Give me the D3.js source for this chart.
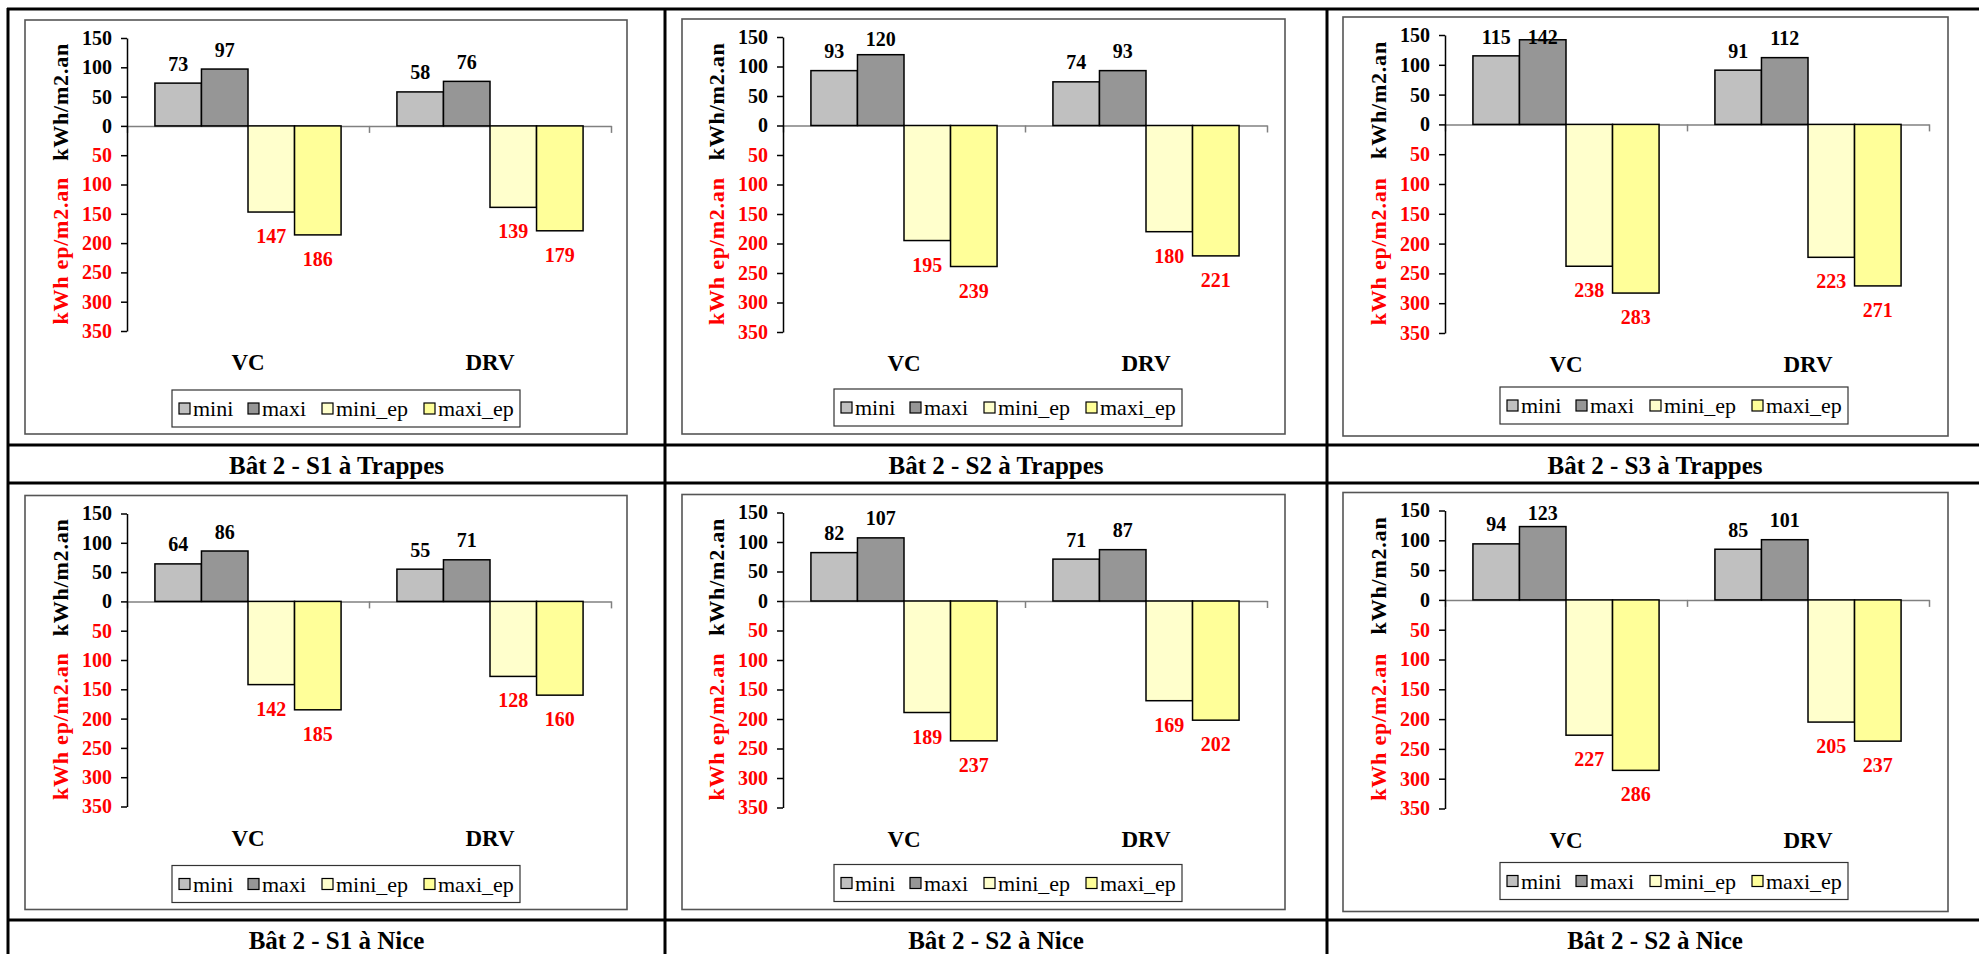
<!DOCTYPE html>
<html>
<head>
<meta charset="utf-8">
<script src="https://cdn.jsdelivr.net/npm/d3@7"></script>
<style>
  body { margin: 0; background: #fff; }
  svg { display: block; }
</style>
</head>
<body>
<svg id="chart" width="1979" height="954"></svg>
<script>
// Categories, series and tick values
const categories = ["VC", "DRV"];
const seriesNames = ["mini", "maxi", "mini_ep", "maxi_ep"];
const seriesColors = ["#C0C0C0", "#969696", "#FFFFCC", "#FFFF99"];
const yTickValues = [150, 100, 50, 0, -50, -100, -150, -200, -250, -300, -350];

const panelTitles = [
  "Bât 2 - S1 à Trappes", "Bât 2 - S2 à Trappes", "Bât 2 - S3 à Trappes",
  "Bât 2 - S1 à Nice", "Bât 2 - S2 à Nice", "Bât 2 - S2 à Nice"
];

// One pair [VC, DRV] per panel, in panel order
const mini   = [[73, 58], [93, 74], [115, 91], [64, 55], [82, 71], [94, 85]];
const maxi   = [[97, 76], [120, 93], [142, 112], [86, 71], [107, 87], [123, 101]];
const miniEp = [[147, 139], [195, 180], [238, 223], [142, 128], [189, 169], [227, 205]];
const maxiEp = [[186, 179], [239, 221], [283, 271], [185, 160], [237, 202], [286, 237]];

// Primary-energy series are drawn below the zero line
const seriesData = [mini, maxi, miniEp.map(p => p.map(v => -v)), maxiEp.map(p => p.map(v => -v))];

// Layout of the three table columns
const columns = [
  { boxX: 25,   boxY: 20, boxW: 602, boxH: 414, axisX: 127,  yTop: 38, yBot: 331, legendCx: 346,  center: 336.5 },
  { boxX: 682,  boxY: 19, boxW: 603, boxH: 415, axisX: 783,  yTop: 37, yBot: 332, legendCx: 1008, center: 996 },
  { boxX: 1343, boxY: 17, boxW: 605, boxH: 419, axisX: 1445, yTop: 35, yBot: 333, legendCx: 1674, center: 1655 }
];
const rowStep = 475.5;
const plotW = 484;
const RED = "#FF0000";
const SERIF = "'Liberation Serif', 'Times New Roman', 'DejaVu Serif', serif";

const svg = d3.select("#chart").style("font-family", SERIF);

function label(sel) {
  return sel.append("text").style("font-family", SERIF);
}

panelTitles.forEach((title, i) => {
  const col = i % 3, row = Math.floor(i / 3);
  const L = columns[col];
  const dy = row * rowStep;
  const g = svg.append("g");

  // chart area frame
  g.append("rect")
    .attr("x", L.boxX).attr("y", L.boxY + dy)
    .attr("width", L.boxW).attr("height", L.boxH)
    .attr("fill", "#fff").attr("stroke", "#555").attr("stroke-width", 1.6);

  const y = d3.scaleLinear().domain([150, -350]).range([L.yTop + dy, L.yBot + dy]);
  const x0 = d3.scaleBand().domain(categories).range([L.axisX, L.axisX + plotW]).padding(0);
  const x1 = d3.scaleBand().domain(seriesNames).range([0, x0.bandwidth()]).paddingInner(0).paddingOuter(0.6);

  // category axis on the zero line
  const xLin = d3.scaleLinear().domain([0, categories.length]).range([L.axisX, L.axisX + plotW]);
  const xAxis = g.append("g")
    .attr("transform", `translate(0,${y(0)})`)
    .call(d3.axisBottom(xLin).tickValues(d3.range(0, categories.length + 1)).tickSize(7).tickSizeOuter(0).tickFormat(""));
  xAxis.select(".domain").attr("stroke", "#808080").attr("stroke-width", 1.5);
  xAxis.selectAll(".tick line").attr("stroke", "#808080").attr("stroke-width", 1.5);

  // value axis
  const yAxis = g.append("g")
    .attr("transform", `translate(${L.axisX},0)`)
    .call(d3.axisLeft(y).tickValues(yTickValues).tickSize(6).tickSizeOuter(0).tickPadding(9)
      .tickFormat(d => Math.abs(d)));
  yAxis.attr("font-family", null);
  yAxis.select(".domain").attr("stroke", "#000").attr("stroke-width", 1.5);
  yAxis.selectAll(".tick line").attr("stroke", "#000").attr("stroke-width", 1.5);
  yAxis.selectAll(".tick text")
    .style("font-family", SERIF)
    .attr("font-size", 20).attr("font-weight", "bold")
    .attr("fill", d => d < 0 ? RED : "#000");

  // axis titles
  label(g)
    .attr("transform", `translate(${L.axisX - 67},${y(41)}) rotate(-90)`)
    .attr("text-anchor", "middle").attr("dy", "0.35em")
    .attr("font-size", 22).attr("font-weight", "bold").attr("letter-spacing", 0.8).attr("fill", "#000")
    .text("kWh/m2.an");
  label(g)
    .attr("transform", `translate(${L.axisX - 67},${y(-213)}) rotate(-90)`)
    .attr("text-anchor", "middle").attr("dy", "0.35em")
    .attr("font-size", 22).attr("font-weight", "bold").attr("letter-spacing", 0.8).attr("fill", RED)
    .text("kWh ep/m2.an");

  // bars and value labels
  categories.forEach((cat, c) => {
    seriesNames.forEach((s, k) => {
      const v = seriesData[k][i][c];
      const bx = x0(cat) + x1(s);
      g.append("rect")
        .attr("x", bx).attr("y", y(Math.max(v, 0)))
        .attr("width", x1.bandwidth())
        .attr("height", Math.abs(y(v) - y(0)))
        .attr("fill", seriesColors[k]).attr("stroke", "#000").attr("stroke-width", 1.5);
      const cy = v >= 0 ? Math.max(y(v) - 19.5, L.yTop + dy + 2) : y(v) + 24;
      label(g)
        .attr("x", bx + x1.bandwidth() / 2).attr("y", cy).attr("dy", "0.35em")
        .attr("text-anchor", "middle")
        .attr("font-size", 20).attr("font-weight", "bold")
        .attr("fill", v >= 0 ? "#000" : RED)
        .text(Math.abs(v));
    });
    label(g)
      .attr("x", x0(cat) + x0.bandwidth() / 2).attr("y", L.yBot + dy + 31).attr("dy", "0.35em")
      .attr("text-anchor", "middle")
      .attr("font-size", 23).attr("font-weight", "bold").attr("fill", "#000")
      .text(cat);
  });

  // legend
  const lw = 348, lh = 37;
  const lx = L.legendCx - lw / 2, ly = L.boxY + dy + 370;
  g.append("rect").attr("x", lx).attr("y", ly).attr("width", lw).attr("height", lh)
    .attr("fill", "#fff").attr("stroke", "#333").attr("stroke-width", 1.2);
  const itemOffsets = [7, 76, 150, 252];
  seriesNames.forEach((s, k) => {
    const sx = lx + itemOffsets[k];
    g.append("rect").attr("x", sx).attr("y", ly + 13).attr("width", 11).attr("height", 11)
      .attr("fill", seriesColors[k]).attr("stroke", "#000").attr("stroke-width", 1.2);
    label(g).attr("x", sx + 14).attr("y", ly + 26)
      .attr("font-size", 22).attr("fill", "#000").text(s);
  });

  // caption cell below the chart
  label(svg)
    .attr("x", L.center).attr("y", 465 + dy).attr("dy", "0.35em")
    .attr("text-anchor", "middle")
    .attr("font-size", 25).attr("font-weight", "bold").attr("fill", "#000")
    .text(title);
});

// table grid
const gridV = [8, 665, 1327, 1986];
const gridH = [9, 445, 483, 920, 959];
const grid = svg.append("g").attr("stroke", "#000").attr("stroke-width", 3);
gridV.forEach(x => grid.append("line").attr("x1", x).attr("x2", x).attr("y1", 8).attr("y2", 960));
gridH.forEach(yv => grid.append("line").attr("x1", 7).attr("x2", 1987).attr("y1", yv).attr("y2", yv));
</script>
</body>
</html>
